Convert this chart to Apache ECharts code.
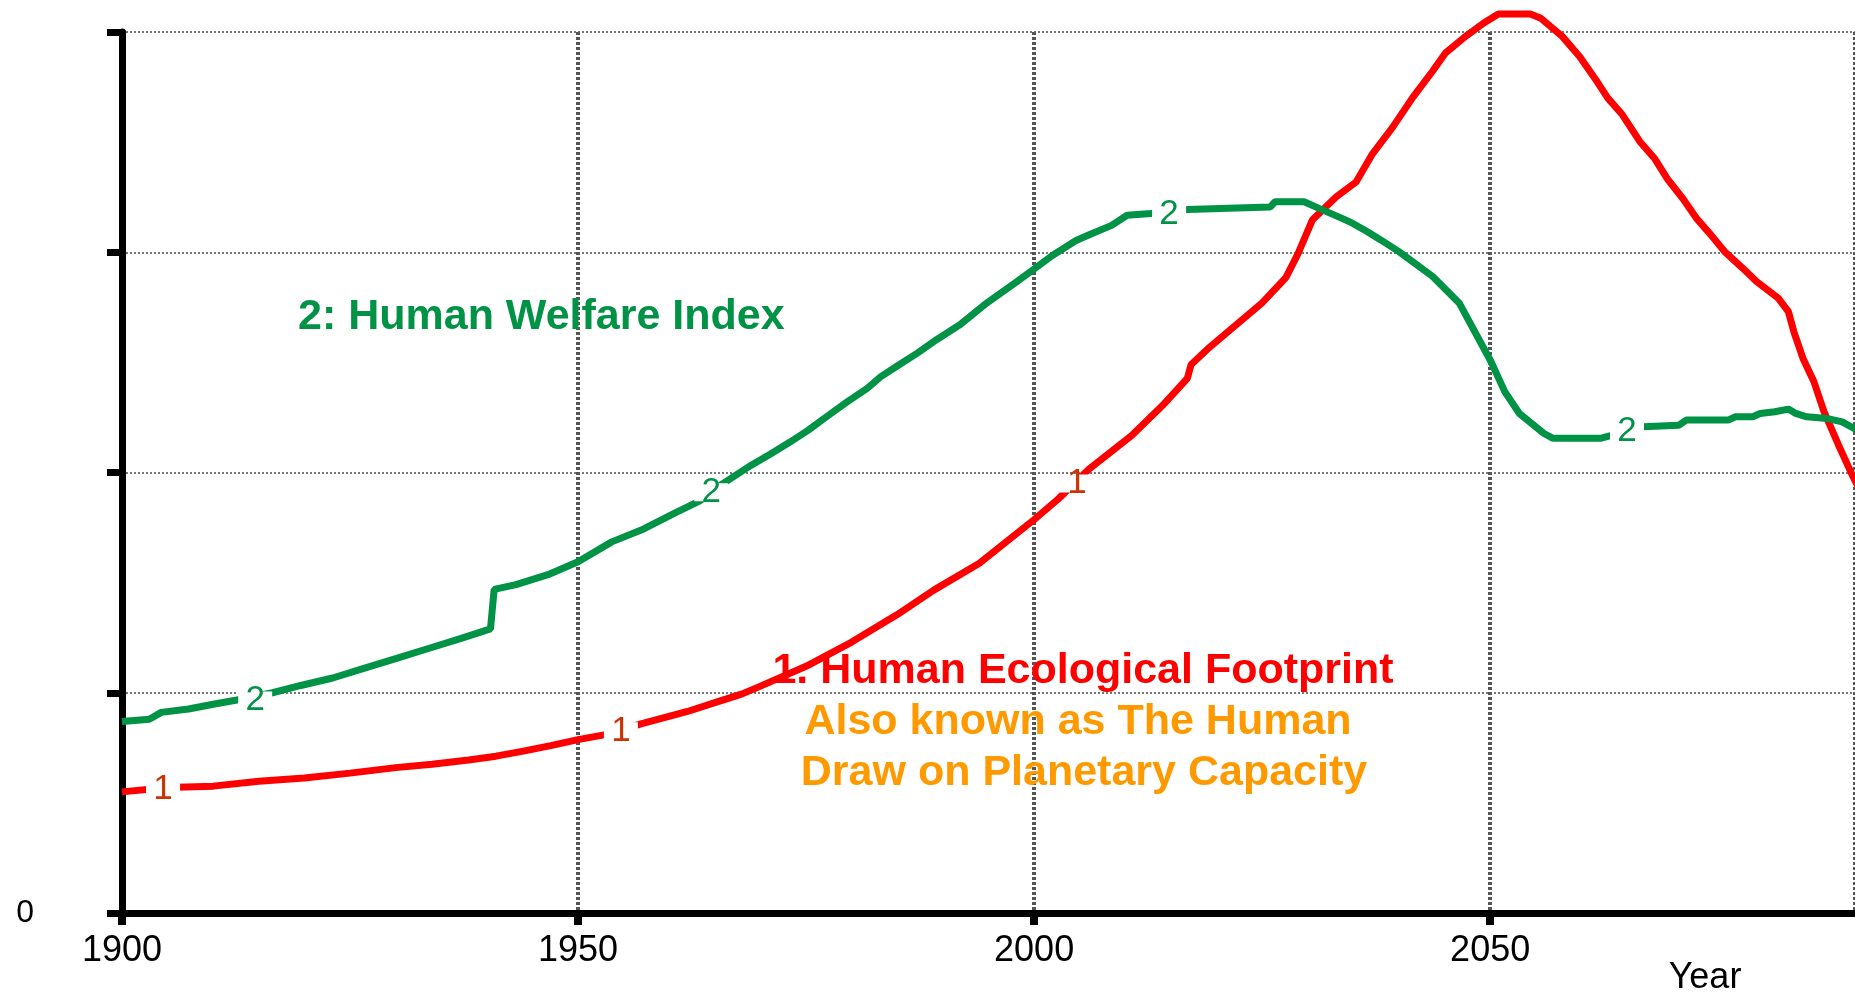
<!DOCTYPE html>
<html>
<head>
<meta charset="utf-8">
<title>Human Ecological Footprint vs Human Welfare Index</title>
<script src="https://cdn.jsdelivr.net/npm/echarts/dist/echarts.min.js"></script>
<style>
  html, body { margin: 0; padding: 0; background: #fff; }
  #chart { width: 1855px; height: 992px; }
</style>
</head>
<body>
<div id="chart"></div>
<script>
// 1: Human Ecological Footprint
const footprintYears = [1900, 1905, 1910, 1915, 1920, 1925, 1930, 1934, 1938, 1941, 1944, 1947, 1950, 1953, 1957,
  1962, 1965, 1968, 1970, 1975, 1980, 1985, 1989, 1994, 2000, 2002.6, 2006, 2010.7, 2014.1, 2016.8, 2017.2, 2019,
  2025, 2027.6, 2028.9, 2030.5, 2033.1, 2035.3, 2037.1, 2039.3, 2041.5, 2043.7, 2045.1, 2047.3, 2049.3, 2050.9,
  2054.4, 2055.5, 2057.9, 2059.8, 2061.7, 2062.9, 2064.5, 2066.4, 2068, 2069.5, 2071.1, 2072.6, 2074.2, 2075.7,
  2077.7, 2079.2, 2081.6, 2082.7, 2083.3, 2084.3, 2085.5, 2086.6, 2088.2, 2089.7, 2092]
const footprintValues = [0.55, 0.57, 0.576, 0.598, 0.613, 0.635, 0.66, 0.675, 0.695, 0.712, 0.735, 0.76, 0.787, 0.81, 0.86,
  0.915, 0.955, 0.995, 1.03, 1.12, 1.23, 1.355, 1.466, 1.588, 1.786, 1.878, 2.015, 2.168, 2.305, 2.427, 2.489, 2.56,
  2.77, 2.885, 2.99, 3.146, 3.251, 3.319, 3.447, 3.567, 3.702, 3.823, 3.905, 3.98, 4.041, 4.082,
  4.082, 4.064, 3.98, 3.889, 3.776, 3.70, 3.624, 3.503, 3.427, 3.329, 3.245, 3.155, 3.079, 3.003,
  2.927, 2.867, 2.791, 2.73, 2.639, 2.518, 2.412, 2.276, 2.124, 1.988, 1.80]

// 2: Human Welfare Index
const welfareYears = [1900, 1903, 1904.3, 1907.3, 1910, 1912.6, 1916.5, 1919.6, 1923.1, 1926.6, 1930.1, 1933.6, 1937.1,
  1940.4, 1940.8, 1943.2, 1946.7, 1950, 1953.7, 1957.2, 1960.7, 1963.3, 1965.8, 1968.9, 1971.1, 1973.2, 1975.2,
  1977.2, 1979.5, 1981.7, 1983.2, 1985.2, 1987.2, 1989.3, 1991.9, 1994.6, 1998, 2000, 2002, 2004.6, 2006.3, 2008.5,
  2010.2, 2012.8, 2016.8, 2025.9, 2026.4, 2029.6, 2031.3, 2033.7, 2034.9, 2036.5, 2038, 2040, 2043.7, 2046.6,
  2050.1, 2051.6, 2053.2, 2055.9, 2056.9, 2062.1, 2066.8, 2070.7, 2071.5, 2076.1, 2076.9, 2078.8, 2079.6, 2081.2,
  2082.7, 2083.5, 2084.7, 2087, 2088.6, 2089.9, 2092]
const welfareValues = [0.869, 0.88, 0.911, 0.926, 0.948, 0.967, 1.0, 1.033, 1.067, 1.112, 1.156, 1.201, 1.246,
  1.29, 1.469, 1.491, 1.536, 1.595, 1.685, 1.744, 1.818, 1.87, 1.947, 2.031, 2.084, 2.137, 2.191,
  2.252, 2.321, 2.382, 2.435, 2.489, 2.542, 2.603, 2.672, 2.763, 2.863, 2.924, 2.985, 3.053, 3.084, 3.122,
  3.168, 3.176, 3.194, 3.206, 3.229, 3.229, 3.198, 3.155, 3.132, 3.094, 3.056, 3.003, 2.89, 2.77,
  2.503, 2.367, 2.268, 2.177, 2.155, 2.155, 2.208, 2.215, 2.238, 2.238, 2.253, 2.253, 2.268, 2.276,
  2.288, 2.268, 2.253, 2.245, 2.23, 2.2, 2.15]

// in-line series tags ("1" / "2")
const footprintTagYears = [1904.5, 1954.7, 2004.7]
const footprintTagValues = [0.56, 0.825, 1.95]
const welfareTagYears = [1914.6, 1964.6, 2014.8, 2065]
const welfareTagValues = [0.965, 1.91, 3.17, 2.185]

const yTicks = [0, 1, 2, 3, 4]

const RED = '#FF0000'
const GREEN = '#009245'
const ORANGE = '#FF9900'
const TAG_RED = '#CC3300'
const FONT = '"Liberation Sans", Arial, sans-serif'

const pairs = (xs, ys) => xs.map((x, i) => [x, ys[i]])

const chart = echarts.init(document.getElementById('chart'))

function tagSeries(name, xs, ys, text, color) {
  return {
    name: name,
    type: 'scatter',
    data: pairs(xs, ys),
    symbol: 'rect',
    symbolSize: [34, 18],
    itemStyle: { color: '#fff', opacity: 1 },
    z: 5,
    clip: false,
    silent: true,
    label: {
      show: true,
      position: 'inside',
      formatter: text,
      color: color,
      opacity: 1,
      fontSize: 35,
      fontFamily: FONT
    }
  }
}

chart.setOption({
  animation: false,
  backgroundColor: '#fff',
  grid: { left: 122, right: 0, top: 32, bottom: 79, containLabel: false },
  xAxis: {
    type: 'value',
    min: 1900,
    max: 2090,
    interval: 50,
    axisLine: { show: true, lineStyle: { color: '#000', width: 7 } },
    axisTick: { show: true, inside: false, length: 12, lineStyle: { color: '#000', width: 8 } },
    axisLabel: {
      show: true,
      margin: 20,
      fontSize: 36,
      fontFamily: FONT,
      color: '#000',
      showMaxLabel: false,
      formatter: v => String(v)
    },
    splitLine: { show: true, lineStyle: { color: '#555', width: 4, type: [3, 2] } }
  },
  yAxis: {
    type: 'value',
    min: 0,
    max: 4,
    interval: 1,
    axisLine: { show: true, lineStyle: { color: '#000', width: 7 } },
    axisTick: { show: true, inside: false, length: 15, lineStyle: { color: '#000', width: 7 } },
    axisLabel: {
      show: true,
      margin: 88,
      fontSize: 32,
      fontFamily: FONT,
      color: '#000',
      formatter: v => (v === yTicks[0] ? '0' : '')
    },
    splitLine: { show: true, lineStyle: { color: '#777', width: 2, type: [2, 2] } }
  },
  series: [
    {
      name: 'Human Ecological Footprint',
      type: 'line',
      data: pairs(footprintYears, footprintValues),
      symbol: 'none',
      clip: false,
      z: 3,
      lineStyle: { color: RED, width: 7 }
    },
    {
      name: 'Human Welfare Index',
      type: 'line',
      data: pairs(welfareYears, welfareValues),
      symbol: 'none',
      clip: false,
      z: 3,
      lineStyle: { color: GREEN, width: 7 }
    },
    tagSeries('footprint tags', footprintTagYears, footprintTagValues, '1', TAG_RED),
    tagSeries('welfare tags', welfareTagYears, welfareTagValues, '2', GREEN)
  ],
  graphic: [
    {
      type: 'text', x: 298, y: 317, z: 10,
      style: { text: '2: Human Welfare Index', fill: GREEN, font: 'bold 43px ' + FONT, align: 'left', verticalAlign: 'middle' }
    },
    {
      type: 'text', x: 1083, y: 671, z: 10,
      style: { text: '1. Human Ecological Footprint', fill: RED, font: 'bold 43px ' + FONT, align: 'center', verticalAlign: 'middle' }
    },
    {
      type: 'text', x: 1078, y: 722, z: 10,
      style: { text: 'Also known as The Human', fill: ORANGE, font: 'bold 43px ' + FONT, align: 'center', verticalAlign: 'middle' }
    },
    {
      type: 'text', x: 1084, y: 773, z: 10,
      style: { text: 'Draw on Planetary Capacity', fill: ORANGE, font: 'bold 43px ' + FONT, align: 'center', verticalAlign: 'middle' }
    },
    {
      type: 'text', x: 1705, y: 978, z: 10,
      style: { text: 'Year', fill: '#000', font: '36px ' + FONT, align: 'center', verticalAlign: 'middle' }
    }
  ]
})
</script>
</body>
</html>
